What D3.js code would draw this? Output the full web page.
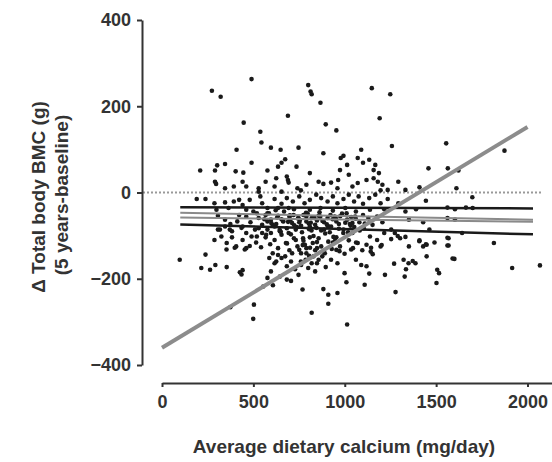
<!DOCTYPE html>
<html>
<head>
<meta charset="utf-8">
<script src="https://cdn.jsdelivr.net/npm/d3@7"></script>
<style>
  body { margin: 0; background: #fff; }
  text { font-family: "Liberation Sans", Arial, sans-serif; }
</style>
</head>
<body>
<div id="chart"></div>
<script>
// Tick values
const xTicks = [0, 500, 1000, 1500, 2000];
const yTicks = [-400, -200, 0, 200, 400];

// Points: calcium (mg/day) and change in BMC (g)
const calcium = [
  490, 273, 321, 800, 813, 819, 1148, 1249, 867, 689, 1191, 447, 896, 954, 538,
  544, 596, 408, 649, 747, 1258, 1555, 1874, 883, 978, 993, 1090, 1071, 674, 654,
  1134, 1167, 1100, 1013, 490, 345, 302, 445, 403, 290, 209, 577, 635, 736, 1458,
  1622, 1564, 290, 296, 345, 461, 529, 529, 567, 625, 683, 689, 693, 741, 760,
  809, 857, 883, 925, 960, 974, 1022, 1071, 1119, 1158, 1181, 1206, 1196, 1235, 1293,
  1332, 1409, 1611, 1158, 1187, 1042, 790, 616, 654, 393, 441, 964, 190, 238, 287,
  345, 393, 441, 480, 538, 548, 577, 616, 654, 683, 716, 751, 780, 809, 844,
  871, 906, 935, 960, 993, 1022, 1051, 1076, 1100, 1134, 1167, 1196, 1235, 1293, 1390,
  1444, 1698, 1603, 1700, 500, 722, 1332, 364, 422, 306, 345, 374, 412, 441, 461,
  484, 509, 529, 548, 567, 577, 596, 616, 635, 645, 664, 683, 697, 712, 732,
  747, 761, 774, 790, 805, 819, 838, 857, 871, 887, 906, 925, 945, 968, 993,
  1013, 1032, 1057, 1080, 1104, 1129, 1152, 1177, 1206, 1254, 1351, 1429, 1603, 1642, 1463,
  1100, 422, 577, 654, 751, 848, 625, 703, 790, 954, 1042, 1138, 529, 809, 887,
  345, 287, 325, 354, 383, 406, 441, 461, 490, 515, 542, 567, 592, 616, 635,
  654, 678, 697, 722, 741, 761, 774, 790, 805, 825, 838, 857, 871, 891, 910,
  929, 954, 974, 999, 1022, 1045, 1071, 1096, 1119, 1142, 1196, 1254, 1303, 1351, 1409,
  1429, 1448, 1491, 1568, 1568, 1816, 1448, 97, 238, 215, 263, 292, 354, 426, 441,
  616, 596, 645, 654, 683, 706, 728, 747, 761, 786, 800, 819, 838, 857, 896,
  960, 999, 1061, 1090, 1119, 1134, 1220, 1270, 1322, 1349, 1387, 1328, 1506, 1516, 1600,
  1916, 2068, 1009, 1109, 1502, 769, 883, 1278, 554, 503, 499, 374, 910, 960, 910,
  819, 1013, 706, 683, 577, 693, 732, 770, 809, 751, 790, 829, 848, 712, 674,
  635, 606, 587, 625, 848, 877, 925, 954, 1042, 1138, 1177, 1216, 1274, 1332, 519,
  461, 383, 306, 596, 548, 519, 461, 577, 635, 693, 809, 867, 935, 1003, 1061,
  1138, 1216, 1663, 1562, 1562, 1335, 1590, 1562, 1562, 1408, 1444, 1153, 1144, 1202, 1290,
  1062, 1035, 971, 935, 1372, 435, 607, 298, 317, 371, 435, 353, 398, 453, 480,
  560, 585, 605, 630, 650, 668, 690, 705, 720, 738, 755, 772, 788, 803, 818,
  833, 848, 862, 878, 893, 908, 922, 938, 952, 968, 985, 1003, 1018, 1035, 1052,
  570, 598, 622, 644, 662, 684, 700, 724, 744, 766, 782, 797, 814, 829, 845,
  866, 884, 902, 918, 934, 947, 975, 992, 1010, 1028, 1060, 1082, 1110, 760, 810
];
const bmcChange = [
  263, 236, 222, 249, 234, 228, 242, 228, 208, 178, 172, 162, 158, 144, 141,
  116, 104, 99, 99, 104, 108, 114, 97, 91, 80, 85, 99, 80, 77, 69,
  76, 64, 69, 64, 69, 66, 63, 46, 49, 51, 51, 51, 60, 60, 56,
  51, 56, 25, 20, 10, 14, 10, 2, 25, 33, 37, 29, 23, 10, 5,
  45, 25, 20, 23, 10, 52, 41, 22, 29, 33, 25, 18, 5, 6, 25,
  6, 12, 10, 52, 45, 14, 18, 14, 2, 14, 25, 29, -15, -15, -25,
  -23, -21, -29, -17, -9, -25, -36, -15, -26, -13, -21, -9, -25, -17, -5,
  -13, -21, -9, -25, -15, -5, -21, -9, -26, -13, -5, -25, -15, -25, -39,
  -19, -11, -39, -36, -44, -39, -44, -36, -17, -54, -63, -73, -67, -79, -56,
  -69, -86, -59, -75, -52, -86, -63, -79, -54, -90, -67, -83, -56, -71, -86,
  -59, -77, -52, -67, -85, -59, -75, -54, -88, -69, -59, -79, -56, -73, -86,
  -63, -77, -56, -69, -83, -59, -75, -56, -69, -86, -63, -69, -63, -94, -86,
  -52, -52, -67, -62, -69, -65, -73, -63, -56, -67, -71, -67, -83, -79, -86,
  -79, -110, -102, -117, -104, -125, -110, -129, -102, -116, -127, -104, -120, -110, -129,
  -98, -117, -134, -106, -125, -141, -112, -129, -147, -117, -134, -106, -125, -141, -114,
  -131, -104, -125, -142, -111, -129, -117, -134, -121, -137, -125, -108, -106, -125, -111,
  -125, -121, -116, -106, -123, -117, -148, -156, -144, -175, -179, -168, -173, -185, -180,
  -164, -183, -195, -152, -171, -160, -178, -191, -168, -156, -175, -164, -183, -156, -173,
  -164, -187, -156, -168, -171, -188, -191, -165, -156, -164, -164, -195, -179, -187, -154,
  -175, -169, -208, -214, -210, -225, -224, -231, -218, -260, -293, -266, -237, -233, -258,
  -279, -306, -205, -202, -198, -94, -110, -122, -104, -133, -141, -148, -129, -141, -148,
  -145, -141, -152, -160, -164, -148, -156, -133, -94, -102, -110, -94, -94, -103, -102,
  -94, -90, -86, -94, -94, -48, -40, -48, -36, -36, -40, -36, -42, -36, -44,
  -40, -39, -35, -35, -59, -178, -153, -105, -123, -113, -120, -143, -128, -122, -101,
  -116, -132, -136, -116, -159, -190, -215, -40, -86, -86, -82, -132, -128, -132, -124,
  -62, -48, -75, -58, -91, -44, -68, -97, -52, -80, -64, -106, -47, -72, -88,
  -58, -115, -46, -66, -95, -78, -52, -103, -61, -84, -49, -70, -92, -57, -80,
  -98, -71, -41, -87, -66, -118, -53, -76, -60, -92, -121, -49, -70, -101, -82,
  -56, -137, -74, -92, -62, -112, -55, -94, -48, -73, -61, -88, -72, -160, -128
];

// Regression lines: thick grey fit and the near-flat fit with its bands
const steepX = [0, 2000];
const steepY = [-360, 152];
const flatX = [100, 2030];
const flatUpper = [-34, -37];
const flatMidA = [-47, -63];
const flatMidB = [-58, -68];
const flatLower = [-74, -97];

const width = 552,
      height = 462;

const svg = d3.select("#chart")
  .append("svg")
  .attr("width", width)
  .attr("height", height);

// Scales
const xScale = d3.scaleLinear().domain([0, 2134]).range([162, 552]);
const yScale = d3.scaleLinear().domain([-400, 400]).range([365, 20]);

// Dotted zero line
svg.append("line")
  .attr("x1", 143).attr("x2", 543)
  .attr("y1", yScale(0)).attr("y2", yScale(0))
  .attr("stroke", "#999")
  .attr("stroke-width", 2)
  .attr("stroke-dasharray", "2,2");

// Points
const points = calcium.map((c, i) => ({ x: c, y: bmcChange[i] }));
svg.append("g")
  .selectAll("circle")
  .data(points)
  .enter()
  .append("circle")
  .attr("cx", d => xScale(d.x))
  .attr("cy", d => yScale(d.y))
  .attr("r", 2.3)
  .attr("fill", "#1a1a1a");

// Lines
function drawLine(xs, ys, color, w) {
  const line = d3.line()
    .x(d => xScale(d[0]))
    .y(d => yScale(d[1]));
  svg.append("path")
    .datum(xs.map((v, i) => [v, ys[i]]))
    .attr("d", line)
    .attr("fill", "none")
    .attr("stroke", color)
    .attr("stroke-width", w);
}

drawLine(flatX, flatMidA, "#8a8a8a", 2);
drawLine(flatX, flatMidB, "#8a8a8a", 2);
drawLine(flatX, flatUpper, "#1a1a1a", 2.5);
drawLine(flatX, flatLower, "#1a1a1a", 2.5);
drawLine(steepX, steepY, "#8c8c8c", 4);

// Axes
const xAxisGroup = svg.append("g")
  .attr("transform", `translate(0, 383)`)
  .call(d3.axisBottom(xScale).tickValues(xTicks).tickFormat(d3.format("d"))
    .tickSize(4).tickSizeOuter(0).tickPadding(8));
const yAxisGroup = svg.append("g")
  .attr("transform", `translate(142, 0)`)
  .call(d3.axisLeft(yScale).tickValues(yTicks).tickSize(5).tickSizeOuter(0).tickPadding(6));

[xAxisGroup, yAxisGroup].forEach(g => {
  g.select(".domain").attr("stroke", "#333").attr("stroke-width", 2);
  g.selectAll(".tick line").attr("stroke", "#333").attr("stroke-width", 2);
  g.selectAll(".tick text")
    .attr("fill", "#333")
    .style("font-size", "18px")
    .style("font-weight", "bold")
    .style("font-family", "'Liberation Sans', Arial, sans-serif");
});

// Axis titles
svg.append("text")
  .attr("x", 344)
  .attr("y", 453)
  .attr("text-anchor", "middle")
  .attr("fill", "#333")
  .style("font-size", "19px")
  .style("font-weight", "bold")
  .text("Average dietary calcium (mg/day)");

svg.append("text")
  .attr("transform", "translate(38, 197) rotate(-90)")
  .attr("dy", "0.35em")
  .attr("text-anchor", "middle")
  .attr("fill", "#333")
  .style("font-size", "19px")
  .style("font-weight", "bold")
  .text("Δ Total body BMC (g)");

svg.append("text")
  .attr("transform", "translate(61, 195) rotate(-90)")
  .attr("dy", "0.35em")
  .attr("text-anchor", "middle")
  .attr("fill", "#333")
  .style("font-size", "19px")
  .style("font-weight", "bold")
  .text("(5 years-baseline)");
</script>
</body>
</html>
